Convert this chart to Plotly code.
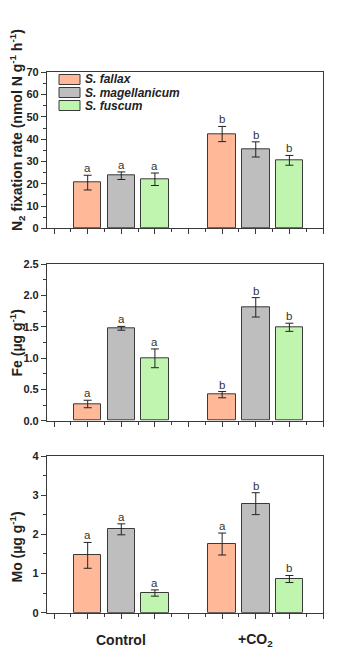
import plotly.graph_objects as go

species = ["S. fallax", "S. magellanicum", "S. fuscum"]
groups = ["Control", "+CO<sub>2</sub>"]
colors = ["#FFB898", "#BEBEBE", "#C0F5B0"]

# x positions (control, +CO2) of each species' bars
xpos = [[1, 5], [2, 6], [3, 7]]
group_x = [2, 6]

n2_vals = [[20.5, 42.3], [23.6, 35.4], [22.0, 30.5]]
n2_err = [[3.3, 3.4], [1.7, 3.4], [2.8, 2.2]]
n2_let = [["a", "b"], ["a", "b"], ["a", "b"]]

fe_vals = [[0.267, 0.416], [1.477, 1.812], [0.997, 1.493]]
fe_err = [[0.06, 0.05], [0.03, 0.155], [0.15, 0.065]]
fe_let = [["a", "b"], ["a", "b"], ["a", "b"]]

mo_vals = [[1.464, 1.753], [2.128, 2.783], [0.502, 0.86]]
mo_err = [[0.33, 0.28], [0.14, 0.28], [0.08, 0.09]]
mo_let = [["a", "a"], ["a", "b"], ["a", "b"]]

titles = ["N<sub>2</sub> fixation rate (nmol N g<sup>-1</sup> h<sup>-1</sup>)",
          "Fe (µg g<sup>-1</sup>)", "Mo (µg g<sup>-1</sup>)"]

FONT = "Liberation Sans, Arial, sans-serif"
LINE = "#3a3a3a"
TXT = "#222222"

# page has an 8px body margin; figure placed at (8, 8) in the window
OFF = 8
W, H = 344, 650
# target plot area in window pixels: x 47..323, y 72..613
L = 47 - OFF
T = 72 - OFF
PW, PH = 276, 541
R = W - L - PW
B = H - T - PH


def px(x):
    return (x - OFF - L) / PW


def py(y):
    return (H - B - (y - OFF)) / PH


panels = [
    dict(vals=n2_vals, err=n2_err, let=n2_let, rng=[0, 70], dt=10, mdt=5,
         fmt="d", top=72.3, bot=228.3, tx=17, ty=130),
    dict(vals=fe_vals, err=fe_err, let=fe_let, rng=[0, 2.5], dt=0.5, mdt=0.25,
         fmt=".1f", top=264.3, bot=420.7, tx=16.5, ty=343),
    dict(vals=mo_vals, err=mo_err, let=mo_let, rng=[0, 4], dt=1, mdt=0.5,
         fmt="d", top=456, bot=612.7, tx=16.5, ty=547),
]

fig = go.Figure()
annotations = []
shapes = []
layout = {}
for p_i, p in enumerate(panels):
    sfx = "" if p_i == 0 else str(p_i + 1)
    for s_i, sp in enumerate(species):
        fig.add_trace(go.Bar(
            x=xpos[s_i], y=p["vals"][s_i], name=sp,
            width=0.82,
            marker=dict(color=colors[s_i], line=dict(color=LINE, width=1)),
            error_y=dict(type="data", array=p["err"][s_i], color="#222222",
                         thickness=1, width=4),
            showlegend=False,
            xaxis="x" + sfx, yaxis="y" + sfx,
        ))
        for g_i in range(2):
            annotations.append(dict(
                x=xpos[s_i][g_i], y=p["vals"][s_i][g_i] + p["err"][s_i][g_i],
                xref="x" + sfx, yref="y" + sfx, text=p["let"][s_i][g_i],
                showarrow=False, yanchor="bottom", yshift=-1,
                font=dict(family=FONT, size=11.5, color="#333333"),
            ))
    layout["xaxis" + sfx] = dict(
        range=[-0.21, 8.0], anchor="y" + sfx, domain=[0, 1],
        tickmode="linear", tick0=0, dtick=1, ticks="outside", ticklen=5,
        tickwidth=1, tickcolor=LINE, showticklabels=False,
        minor=dict(tickmode="linear", tick0=0, dtick=0.5, ticks="outside",
                   ticklen=3, tickcolor=LINE),
        showline=True, linecolor=LINE, linewidth=1.2, mirror=True,
        showgrid=False, zeroline=False, fixedrange=True, automargin=False,
    )
    layout["yaxis" + sfx] = dict(
        range=p["rng"], anchor="x" + sfx, domain=[py(p["bot"]), py(p["top"])],
        tickmode="linear", tick0=0, dtick=p["dt"], tickformat=p["fmt"],
        ticks="outside", ticklen=5, tickwidth=1, tickcolor=LINE,
        minor=dict(tickmode="linear", tick0=0, dtick=p["mdt"], ticks="outside",
                   ticklen=3, tickcolor=LINE),
        tickfont=dict(family=FONT, size=11, color=TXT, weight="bold"),
        showline=True, linecolor=LINE, linewidth=1.2, mirror=True,
        showgrid=False, zeroline=False, fixedrange=True, automargin=False,
    )
    annotations.append(dict(
        x=px(p["tx"]), y=py(p["ty"]), xref="paper", yref="paper",
        text="<b>" + titles[p_i] + "</b>", textangle=-90, showarrow=False,
        xanchor="center", yanchor="middle",
        font=dict(family=FONT, size=14, color=TXT),
    ))

# group labels under bottom panel
for g_i, g in enumerate(groups):
    annotations.append(dict(
        x=group_x[g_i], y=py(640), xref="x3", yref="paper", text="<b>" + g + "</b>",
        showarrow=False, yanchor="middle",
        font=dict(family=FONT, size=14, color=TXT),
    ))

# legend (drawn as swatches + labels inside top panel)
leg_y = [79.5, 92.5, 105.5]
for s_i, sp in enumerate(species):
    shapes.append(dict(
        type="rect", xref="paper", yref="paper",
        x0=px(59), x1=px(80), y0=py(leg_y[s_i] + 5), y1=py(leg_y[s_i] - 5),
        fillcolor=colors[s_i], line=dict(color=LINE, width=1),
    ))
    annotations.append(dict(
        x=px(83), y=py(leg_y[s_i]), xref="paper", yref="paper",
        text="<b><i>" + sp + "</i></b>", showarrow=False,
        xanchor="left", yanchor="middle",
        font=dict(family=FONT, size=12, color=TXT),
    ))

fig.update_layout(
    width=W, height=H,
    margin=dict(l=L, r=R, t=T, b=B, autoexpand=False),
    paper_bgcolor="white", plot_bgcolor="white",
    barmode="overlay", bargap=0,
    showlegend=False,
    annotations=annotations,
    shapes=shapes,
    **layout,
)

fig.write_html("out.html")
